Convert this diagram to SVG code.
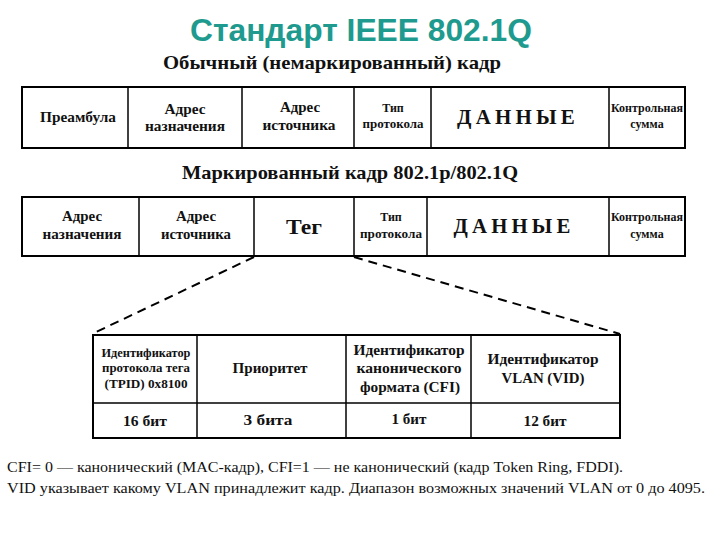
<svg xmlns="http://www.w3.org/2000/svg" width="720" height="540" viewBox="0 0 720 540">
<style>
text{font-family:'Liberation Serif','Times New Roman',Times,'DejaVu Serif',serif}
.box{fill:#fff;stroke:#000;stroke-width:2}
.ln{stroke:#000;stroke-width:1.5}
.t{font-weight:bold;fill:#111;text-anchor:middle}
.s{font-size:12px}
.m{font-size:14px}
.big{font-size:20px;letter-spacing:4px}
.h{font-weight:bold;font-size:19px;text-anchor:middle;fill:#111}
.note{font-size:15px;fill:#111}
.dash{stroke:#000;stroke-width:2;stroke-dasharray:9,6;fill:none}
text.title{font-family:'Liberation Sans',Arial,sans-serif;font-weight:bold;font-size:31px;fill:#1e9a8e;text-anchor:middle}
</style>
<rect width="720" height="540" fill="#fff"/>
<text class="title" x="361" y="41" textLength="342" lengthAdjust="spacingAndGlyphs">Стандарт IEEE 802.1Q</text>
<text class="h" x="332" y="69" textLength="338" lengthAdjust="spacingAndGlyphs">Обычный (немаркированный) кадр</text>

<g id="frame1">
<rect class="box" x="22" y="87" width="663" height="61"/>
<line class="ln" x1="128" y1="87" x2="128" y2="148"/>
<line class="ln" x1="242" y1="87" x2="242" y2="148"/>
<line class="ln" x1="354" y1="87" x2="354" y2="148"/>
<line class="ln" x1="431" y1="87" x2="431" y2="148"/>
<line class="ln" x1="609" y1="87" x2="609" y2="148"/>
<text class="t m" x="78" y="122" textLength="76" lengthAdjust="spacingAndGlyphs">Преамбула</text>
<text class="t m" x="185" y="114" textLength="41" lengthAdjust="spacingAndGlyphs">Адрес</text>
<text class="t m" x="185" y="131" textLength="80" lengthAdjust="spacingAndGlyphs">назначения</text>
<text class="t m" x="300" y="112" textLength="40" lengthAdjust="spacingAndGlyphs">Адрес</text>
<text class="t m" x="299" y="130" textLength="73" lengthAdjust="spacingAndGlyphs">источника</text>
<text class="t s" x="393" y="112">Тип</text>
<text class="t s" x="393" y="128" textLength="61" lengthAdjust="spacingAndGlyphs">протокола</text>
<text class="t big" x="518" y="124" textLength="122" lengthAdjust="spacingAndGlyphs">ДАННЫЕ</text>
<text class="t s" x="647" y="112" textLength="72" lengthAdjust="spacingAndGlyphs">Контрольная</text>
<text class="t s" x="647" y="128">сумма</text>
</g>

<text class="h" x="350" y="179" textLength="336" lengthAdjust="spacingAndGlyphs">Маркированный кадр 802.1p/802.1Q</text>

<g id="frame2">
<rect class="box" x="22" y="197" width="663" height="59"/>
<line class="ln" x1="139" y1="197" x2="139" y2="256"/>
<line class="ln" x1="254" y1="197" x2="254" y2="256"/>
<line class="ln" x1="354" y1="197" x2="354" y2="256"/>
<line class="ln" x1="427" y1="197" x2="427" y2="256"/>
<line class="ln" x1="609" y1="197" x2="609" y2="256"/>
<text class="t m" x="82" y="221" textLength="40" lengthAdjust="spacingAndGlyphs">Адрес</text>
<text class="t m" x="82" y="239" textLength="79" lengthAdjust="spacingAndGlyphs">назначения</text>
<text class="t m" x="196" y="221" textLength="40" lengthAdjust="spacingAndGlyphs">Адрес</text>
<text class="t m" x="196" y="239" textLength="70" lengthAdjust="spacingAndGlyphs">источника</text>
<text class="t" font-size="20" x="304" y="234" textLength="36" lengthAdjust="spacingAndGlyphs">Тег</text>
<text class="t s" x="391" y="221">Тип</text>
<text class="t s" x="391" y="238" textLength="62" lengthAdjust="spacingAndGlyphs">протокола</text>
<text class="t big" x="514" y="233" textLength="121" lengthAdjust="spacingAndGlyphs">ДАННЫЕ</text>
<text class="t s" x="647" y="221" textLength="72" lengthAdjust="spacingAndGlyphs">Контрольная</text>
<text class="t s" x="647" y="238">сумма</text>
</g>

<g id="connectors">
<line class="dash" x1="254" y1="257" x2="94" y2="333"/>
<line class="dash" x1="354" y1="257" x2="620" y2="334"/>
</g>

<g id="tag">
<rect class="box" x="93" y="335" width="527" height="103"/>
<line class="ln" x1="93" y1="403" x2="620" y2="403"/>
<line class="ln" x1="197" y1="335" x2="197" y2="438"/>
<line class="ln" x1="346" y1="335" x2="346" y2="438"/>
<line class="ln" x1="471" y1="335" x2="471" y2="438"/>
<text class="t s" x="146" y="357" textLength="89" lengthAdjust="spacingAndGlyphs">Идентификатор</text>
<text class="t s" x="146" y="372" textLength="88" lengthAdjust="spacingAndGlyphs">протокола тега</text>
<text class="t s" x="146" y="388" textLength="83" lengthAdjust="spacingAndGlyphs">(TPID) 0x8100</text>
<text class="t m" x="270" y="373" textLength="75" lengthAdjust="spacingAndGlyphs">Приоритет</text>
<text class="t m" x="409" y="355" textLength="111" lengthAdjust="spacingAndGlyphs">Идентификатор</text>
<text class="t m" x="409" y="373" textLength="105" lengthAdjust="spacingAndGlyphs">канонического</text>
<text class="t m" x="410" y="392" textLength="100" lengthAdjust="spacingAndGlyphs">формата (CFI)</text>
<text class="t m" x="543" y="364" textLength="111" lengthAdjust="spacingAndGlyphs">Идентификатор</text>
<text class="t m" x="543" y="383" textLength="83" lengthAdjust="spacingAndGlyphs">VLAN (VID)</text>
<text class="t m" x="145" y="426" textLength="44" lengthAdjust="spacingAndGlyphs">16 бит</text>
<text class="t m" x="268" y="425" textLength="49" lengthAdjust="spacingAndGlyphs">3 бита</text>
<text class="t m" x="409" y="424" textLength="35" lengthAdjust="spacingAndGlyphs">1 бит</text>
<text class="t m" x="545" y="426" textLength="43" lengthAdjust="spacingAndGlyphs">12 бит</text>
</g>

<text class="note" x="7" y="472" textLength="616" lengthAdjust="spacingAndGlyphs">CFI= 0 — канонический (MAC-кадр), CFI=1 — не канонический (кадр Token Ring, FDDI).</text>
<text class="note" x="7" y="493" textLength="698" lengthAdjust="spacingAndGlyphs">VID  указывает какому VLAN принадлежит кадр. Диапазон возможных значений VLAN от 0 до 4095.</text>
</svg>
